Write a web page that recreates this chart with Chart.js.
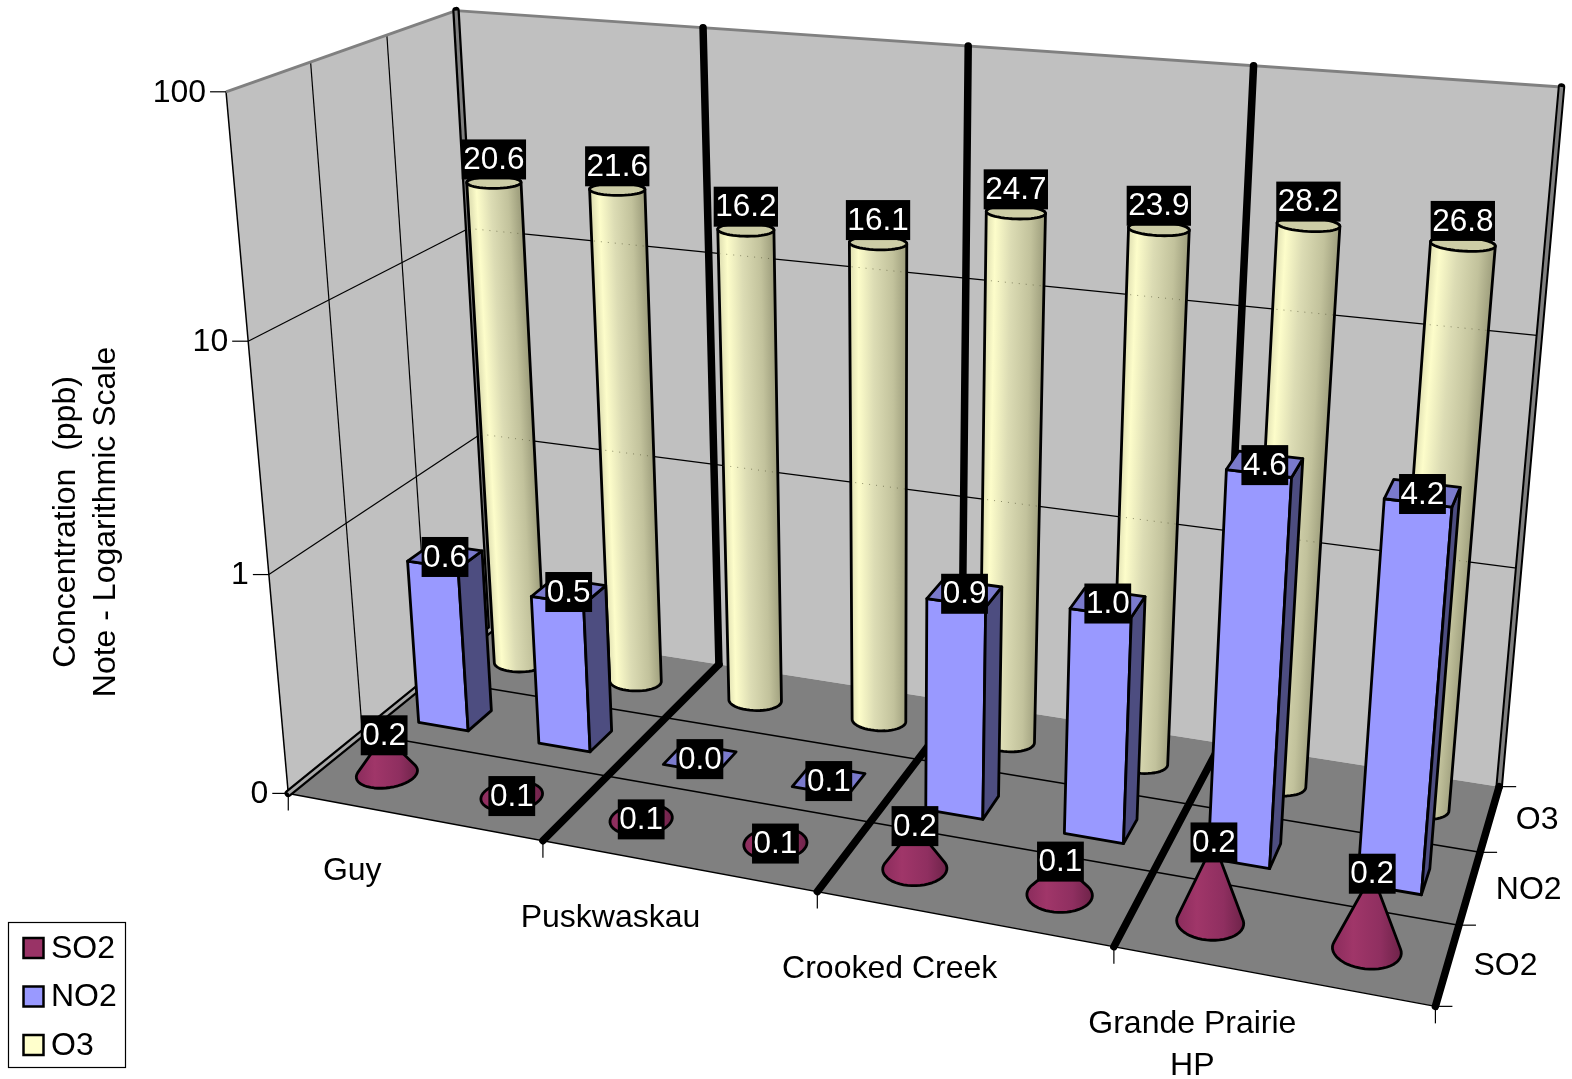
<!DOCTYPE html>
<html>
<head>
<meta charset="utf-8">
<style>body{margin:0;background:#fff}canvas{display:block}</style>
<script src="https://cdn.jsdelivr.net/npm/chart.js@4"></script>
</head>
<body>
<canvas id="myChart" width="1572" height="1079"></canvas>
<script>
// 8 columns, two per station (the sub categories have no label in the original)
const categories = ['Guy','Guy','Puskwaskau','Puskwaskau','Crooked Creek','Crooked Creek','Grande Prairie HP','Grande Prairie HP'];
const stationLabels = [['Guy'],['Puskwaskau'],['Crooked Creek'],['Grande Prairie','HP']];
const seriesNames = ['SO2','NO2','O3'];
const so2 = [0.152,0.10,0.10,0.10,0.155,0.14,0.22,0.211];
const no2 = [0.6,0.5,0.04,0.07,0.9,1.0,4.6,4.2];
const o3 = [20.6,21.6,16.2,16.1,24.7,23.9,28.2,26.8];
const yTicks = [0.1,1,10,100];
const yTickLabels = ['0','1','10','100'];

const FONT = '"Liberation Sans", Arial, sans-serif';

// where the edges of the 3d box land on the page: u (stations), v (depth), w (log height), x, y
const boxFit = [
    [0,0,0,289,794],[1,0,0,1432,1006],[1,1,0,1500,787],[0,1,0,488,626],
    [0,0,1,224,90],[0,1,1,456,10],[1,1,1,1562,88],
    [.25,1,1,704,27],[.5,1,1,969,45],[.75,1,1,1254,65],[.25,1,0,722,661],
    [.25,0,0,543,842],[.5,0,0,816,892],[.75,0,0,1112,947],
    [0,0,1/3,272,574],[0,0,2/3,248,341],
    [1,1/3,0,1463,925],[1,2/3,0,1483,853],
    [0,1/3,1,311,62],[0,2/3,1,388,35],[1,1,2/3,1537,336],[0,1,2/3,468,232],
    [0,1,1/3,479,438],[1,1,1/3,1516,568]
];

// least squares for the projection matrix
function fitCamera(pts){
    const n = 11, A = [];
    for (let i = 0; i < n; i++) A.push(new Array(n + 1).fill(0));
    function add(row, rhs){
        for (let i = 0; i < n; i++){
            for (let j = 0; j < n; j++) A[i][j] += row[i] * row[j];
            A[i][n] += row[i] * rhs;
        }
    }
    pts.forEach(function(p){
        const u = p[0], v = p[1], w = p[2], x = p[3] / 1000, y = p[4] / 1000;
        add([u,v,w,1,0,0,0,0,-x*u,-x*v,-x*w], x);
        add([0,0,0,0,u,v,w,1,-y*u,-y*v,-y*w], y);
    });
    for (let c = 0; c < n; c++){
        let best = c;
        for (let r = c + 1; r < n; r++) if (Math.abs(A[r][c]) > Math.abs(A[best][c])) best = r;
        const t = A[c]; A[c] = A[best]; A[best] = t;
        for (let r = 0; r < n; r++){
            if (r === c) continue;
            const f = A[r][c] / A[c][c];
            for (let k = c; k <= n; k++) A[r][k] -= f * A[c][k];
        }
    }
    return A.map(function(r, i){ return r[n] / r[i]; });
}
const cam = fitCamera(boxFit);
function project(u, v, w){
    const d = cam[8]*u + cam[9]*v + cam[10]*w + 1;
    return [1000*(cam[0]*u + cam[1]*v + cam[2]*w + cam[3]) / d,
            1000*(cam[4]*u + cam[5]*v + cam[6]*w + cam[7]) / d];
}

function hull(points){
    const p = points.slice().sort(function(a, b){ return a[0] - b[0] || a[1] - b[1]; });
    const cross = function(o, a, b){ return (a[0]-o[0])*(b[1]-o[1]) - (a[1]-o[1])*(b[0]-o[0]); };
    const lo = [], up = [];
    p.forEach(function(q){
        while (lo.length > 1 && cross(lo[lo.length-2], lo[lo.length-1], q) <= 0) lo.pop();
        lo.push(q);
    });
    p.slice().reverse().forEach(function(q){
        while (up.length > 1 && cross(up[up.length-2], up[up.length-1], q) <= 0) up.pop();
        up.push(q);
    });
    return lo.slice(0, -1).concat(up.slice(0, -1));
}
function path(ctx, pts){
    ctx.beginPath();
    pts.forEach(function(p, i){ i ? ctx.lineTo(p[0], p[1]) : ctx.moveTo(p[0], p[1]); });
    ctx.closePath();
}
function line(ctx, a, b, width, color, cap){
    ctx.beginPath();
    ctx.moveTo(a[0], a[1]);
    ctx.lineTo(b[0], b[1]);
    ctx.lineWidth = width;
    ctx.strokeStyle = color;
    ctx.lineCap = cap || 'butt';
    ctx.stroke();
}
function fromScale(scale, value){
    return (scale.getPixelForValue(value) - scale.left) / scale.width;
}
function heightOf(chart, value){
    const y = chart.scales.y;
    return Math.max(0, (y.bottom - y.getPixelForValue(value)) / y.height);
}
function circle(uc, vc, ru, rv, w){
    const out = [];
    for (let i = 0; i < 48; i++){
        const a = i / 48 * Math.PI * 2;
        out.push(project(uc + ru*Math.cos(a), vc + rv*Math.sin(a), w));
    }
    return out;
}
function shade(ctx, pts, stops){
    const xs = pts.map(function(p){ return p[0]; });
    const g = ctx.createLinearGradient(Math.min.apply(null, xs), 0, Math.max.apply(null, xs), 0);
    stops.forEach(function(s){ g.addColorStop(s[0], s[1]); });
    return g;
}
function wallGrid(chart, ctx, width, color, backOnly){
    [1,10].forEach(function(t){
        const w = heightOf(chart, t);
        if (!backOnly) line(ctx, project(0,0,w), project(0,1,w), width, color);
        line(ctx, project(0,1,w), project(1,1,w), width, color);
    });
}

const CYL_STOPS = [[0,'#e4e4b6'],[0.13,'#fdfdca'],[0.42,'#dcdcb4'],[0.78,'#c2c29c'],[1,'#a2a280']];
const CONE_STOPS = [[0,'#8a2c5c'],[0.3,'#a03669'],[0.7,'#8f2f60'],[1,'#6e2349']];
const EDGE = 2.8;

class Bar3D extends Chart.BarController {
    draw(){
        const chart = this.chart, ctx = chart.ctx, ds = this.getDataset();
        const vc = fromScale(chart.scales.z, this.index) + ds.shiftV;
        ctx.save();
        ctx.lineJoin = 'round';
        ds.data.forEach(function(value, i){
            const uc = fromScale(chart.scales.x, i) + ds.shiftU, w = heightOf(chart, value);
            if (ds.shape === 'box') drawBox(ctx, uc, vc, w, ds);
            if (ds.shape === 'cyl') drawCyl(chart, ctx, uc, vc, w, ds);
            if (ds.shape === 'cone') drawCone(ctx, uc, vc, w, ds);
        });
        ctx.restore();
    }
}
Bar3D.id = 'bar3d';
Bar3D.defaults = Chart.BarController.defaults;
Bar3D.overrides = Chart.BarController.overrides;
Chart.register(Bar3D);

function drawBox(ctx, uc, vc, w, ds){
    const ru = ds.halfU, rv = ds.halfV;
    const a = [uc-ru, vc-rv], b = [uc+ru, vc-rv], c = [uc+ru, vc+rv], d = [uc-ru, vc+rv];
    ctx.lineWidth = EDGE;
    ctx.strokeStyle = '#000';
    const face = function(pts, color){ path(ctx, pts); ctx.fillStyle = color; ctx.fill(); ctx.stroke(); };
    if (w > 0){
        face([project(a[0],a[1],0), project(b[0],b[1],0), project(b[0],b[1],w), project(a[0],a[1],w)], '#9999ff');
        face([project(b[0],b[1],0), project(c[0],c[1],0), project(c[0],c[1],w), project(b[0],b[1],w)], '#4d4d80');
    }
    face([project(a[0],a[1],w), project(b[0],b[1],w), project(c[0],c[1],w), project(d[0],d[1],w)], '#7a7acc');
}
function drawCyl(chart, ctx, uc, vc, w, ds){
    const bottom = circle(uc, vc, ds.halfU, ds.halfV, 0), top = circle(uc, vc, ds.halfU, ds.halfV, w);
    const body = hull(bottom.concat(top));
    // shading follows the lean of the column
    const b0 = project(uc, vc, 0), t0 = project(uc, vc, w);
    const len = Math.hypot(t0[0]-b0[0], t0[1]-b0[1]);
    const nx = -(t0[1]-b0[1]) / len, ny = (t0[0]-b0[0]) / len;
    const mid = project(uc, vc, w/2), half = Math.abs(project(uc+ds.halfU, vc, w/2)[0] - project(uc-ds.halfU, vc, w/2)[0]) / 2;
    const g = ctx.createLinearGradient(mid[0]-nx*half, mid[1]-ny*half, mid[0]+nx*half, mid[1]+ny*half);
    CYL_STOPS.forEach(function(s){ g.addColorStop(s[0], s[1]); });
    path(ctx, body);
    ctx.fillStyle = g;
    ctx.fill();
    ctx.lineWidth = EDGE;
    ctx.strokeStyle = '#000';
    ctx.stroke();
    // the wall lines show through faintly
    ctx.save();
    path(ctx, body);
    ctx.clip();
    ctx.setLineDash([1,6]);
    wallGrid(chart, ctx, 1, 'rgba(80,80,50,0.6)', true);
    ctx.restore();
    path(ctx, top);
    ctx.fillStyle = '#cdcda6';
    ctx.fill();
    ctx.lineWidth = EDGE;
    ctx.strokeStyle = '#000';
    ctx.stroke();
}
function drawCone(ctx, uc, vc, w, ds){
    const base = circle(uc, vc, ds.halfU, ds.halfV, 0);
    path(ctx, hull(base.concat([project(uc, vc, w)])));
    ctx.fillStyle = shade(ctx, base, CONE_STOPS);
    ctx.fill();
    ctx.lineWidth = EDGE;
    ctx.strokeStyle = '#000';
    ctx.stroke();
}

const box3d = {
    id: 'box3d',
    beforeDatasetsDraw(chart){
        const ctx = chart.ctx;
        ctx.save();
        path(ctx, [project(0,0,0), project(0,1,0), project(0,1,1), project(0,0,1)]);
        ctx.fillStyle = '#c0c0c0';
        ctx.fill();
        path(ctx, [project(0,1,0), project(1,1,0), project(1,1,1), project(0,1,1)]);
        ctx.fill();
        path(ctx, [project(0,0,0), project(1,0,0), project(1,1,0), project(0,1,0)]);
        ctx.fillStyle = '#808080';
        ctx.fill();

        wallGrid(chart, ctx, 1.2, '#000');
        [1/3,2/3].forEach(function(v){
            line(ctx, project(0,v,0), project(0,v,1), 1.2, '#000');
            line(ctx, project(0,v,0), project(1,v,0), 1.5, '#000');
        });
        line(ctx, project(0,0,0), project(0,0,1), 1.5, '#000');
        line(ctx, project(0,0,0), project(1,0,0), 1.5, '#000');
        line(ctx, project(0,1,1), project(1,1,1), 3, '#808080');
        line(ctx, project(0,0,1), project(0,1,1), 3, '#808080');

        // heavy station dividers, floor then back wall
        [0,.25,.5,.75].forEach(function(u){
            line(ctx, project(u,0,0), project(u,1,0), 7.5, '#000', 'round');
            line(ctx, project(u,1,0), project(u,1,1), 7.5, '#000', 'round');
        });
        line(ctx, project(0,0,0), project(0,1,0), 3, '#a8a8a8');
        line(ctx, project(0,1,0), project(0,1,1), 3, '#808080');
        line(ctx, project(1,1,0), project(1,1,1), 7.5, '#000', 'round');
        line(ctx, project(1,1,0), project(1,1,1), 3.5, '#808080');
        line(ctx, project(1,0,0), project(1,1,0), 7.5, '#000', 'round');

        // ticks and axis text
        ctx.fillStyle = '#000';
        ctx.font = '32px ' + FONT;
        ctx.textBaseline = 'middle';
        ctx.textAlign = 'right';
        yTicks.forEach(function(t, i){
            const p = project(0, 0, heightOf(chart, t));
            line(ctx, [p[0]-16, p[1]], p, 1.2, '#000');
            ctx.fillText(yTickLabels[i], p[0]-20, p[1]+1);
        });
        ctx.textAlign = 'center';
        [0,.25,.5,.75,1].forEach(function(u){
            const p = project(u, 0, 0);
            line(ctx, p, [p[0], p[1]+17], 1.2, '#000');
        });
        stationLabels.forEach(function(lines, i){
            const uc = (i + .5) / stationLabels.length, p = project(uc, 0, 0);
            lines.forEach(function(txt, k){
                ctx.fillText(txt, p[0] - 58 - 24*uc, p[1] + 56 - 9*uc + 42*k);
            });
        });
        [0,1/3,2/3,1].forEach(function(v){
            const p = project(1, v, 0);
            line(ctx, p, [p[0]+17, p[1]], 1.2, '#000');
        });
        ctx.textAlign = 'left';
        seriesNames.forEach(function(name, i){
            const p = project(1, fromScale(chart.scales.z, i), 0);
            ctx.fillText(name, p[0]+26, p[1]+2);
        });

        // axis title
        ctx.save();
        ctx.translate(66, 522);
        ctx.rotate(-Math.PI/2);
        ctx.textAlign = 'center';
        ctx.fillText('Concentration  (ppb)', 0, 0);
        ctx.fillText('Note - Logarithmic Scale', 0, 40);
        ctx.restore();
        ctx.restore();
    },
    afterDatasetsDraw(chart){
        const ctx = chart.ctx;
        ctx.save();
        ctx.font = '31.5px ' + FONT;
        ctx.textAlign = 'center';
        ctx.textBaseline = 'middle';
        chart.data.datasets.forEach(function(ds, s){
            const vc = fromScale(chart.scales.z, s) + ds.shiftV;
            ds.data.forEach(function(value, i){
                const p = project(fromScale(chart.scales.x, i) + ds.shiftU, vc, heightOf(chart, value));
                const txt = value.toFixed(1), tw = ctx.measureText(txt).width + 3;
                ctx.fillStyle = '#000';
                ctx.fillRect(p[0]-tw/2, p[1]+ds.labelDy-20, tw, 40);
                ctx.fillStyle = '#fff';
                ctx.fillText(txt, p[0], p[1]+ds.labelDy+1);
            });
        });

        // legend
        ctx.strokeStyle = '#000';
        ctx.lineWidth = 1.2;
        ctx.strokeRect(8.5, 922.5, 117, 145);
        ctx.textAlign = 'left';
        ctx.font = '32px ' + FONT;
        chart.data.datasets.forEach(function(ds, s){
            const y = 948 + 48.5*s;
            ctx.fillStyle = ds.legendColor;
            ctx.lineWidth = 2.5;
            ctx.fillRect(23.5, y-10, 20, 20);
            ctx.strokeRect(23.5, y-10, 20, 20);
            ctx.fillStyle = '#000';
            ctx.fillText(ds.label, 51, y+1);
        });
        ctx.restore();
    }
};

new Chart(document.getElementById('myChart').getContext('2d'), {
    type: 'bar3d',
    data: {
        labels: categories,
        datasets: [
            {label: seriesNames[0], data: so2, shape: 'cone', halfU: .0265, halfV: .075, shiftU: 0, shiftV: 0, labelDy: 0, legendColor: '#993366'},
            {label: seriesNames[1], data: no2, shape: 'box', halfU: .026, halfV: .06, shiftU: .001, shiftV: -.006, labelDy: 1, legendColor: '#9999ff'},
            {label: seriesNames[2], data: o3, shape: 'cyl', halfU: .0255, halfV: .057, shiftU: .002, shiftV: 0, labelDy: -23, legendColor: '#ffffcc'}
        ]
    },
    options: {
        responsive: false,
        animation: false,
        layout: {padding: 0},
        plugins: {legend: {display: false}, tooltip: {enabled: false}},
        scales: {
            x: {type: 'category', offset: true, display: false},
            y: {type: 'logarithmic', min: 0.1, max: 100, display: false},
            z: {type: 'category', axis: 'x', labels: seriesNames, offset: true, display: false}
        }
    },
    plugins: [box3d]
});
</script>
</body>
</html>
